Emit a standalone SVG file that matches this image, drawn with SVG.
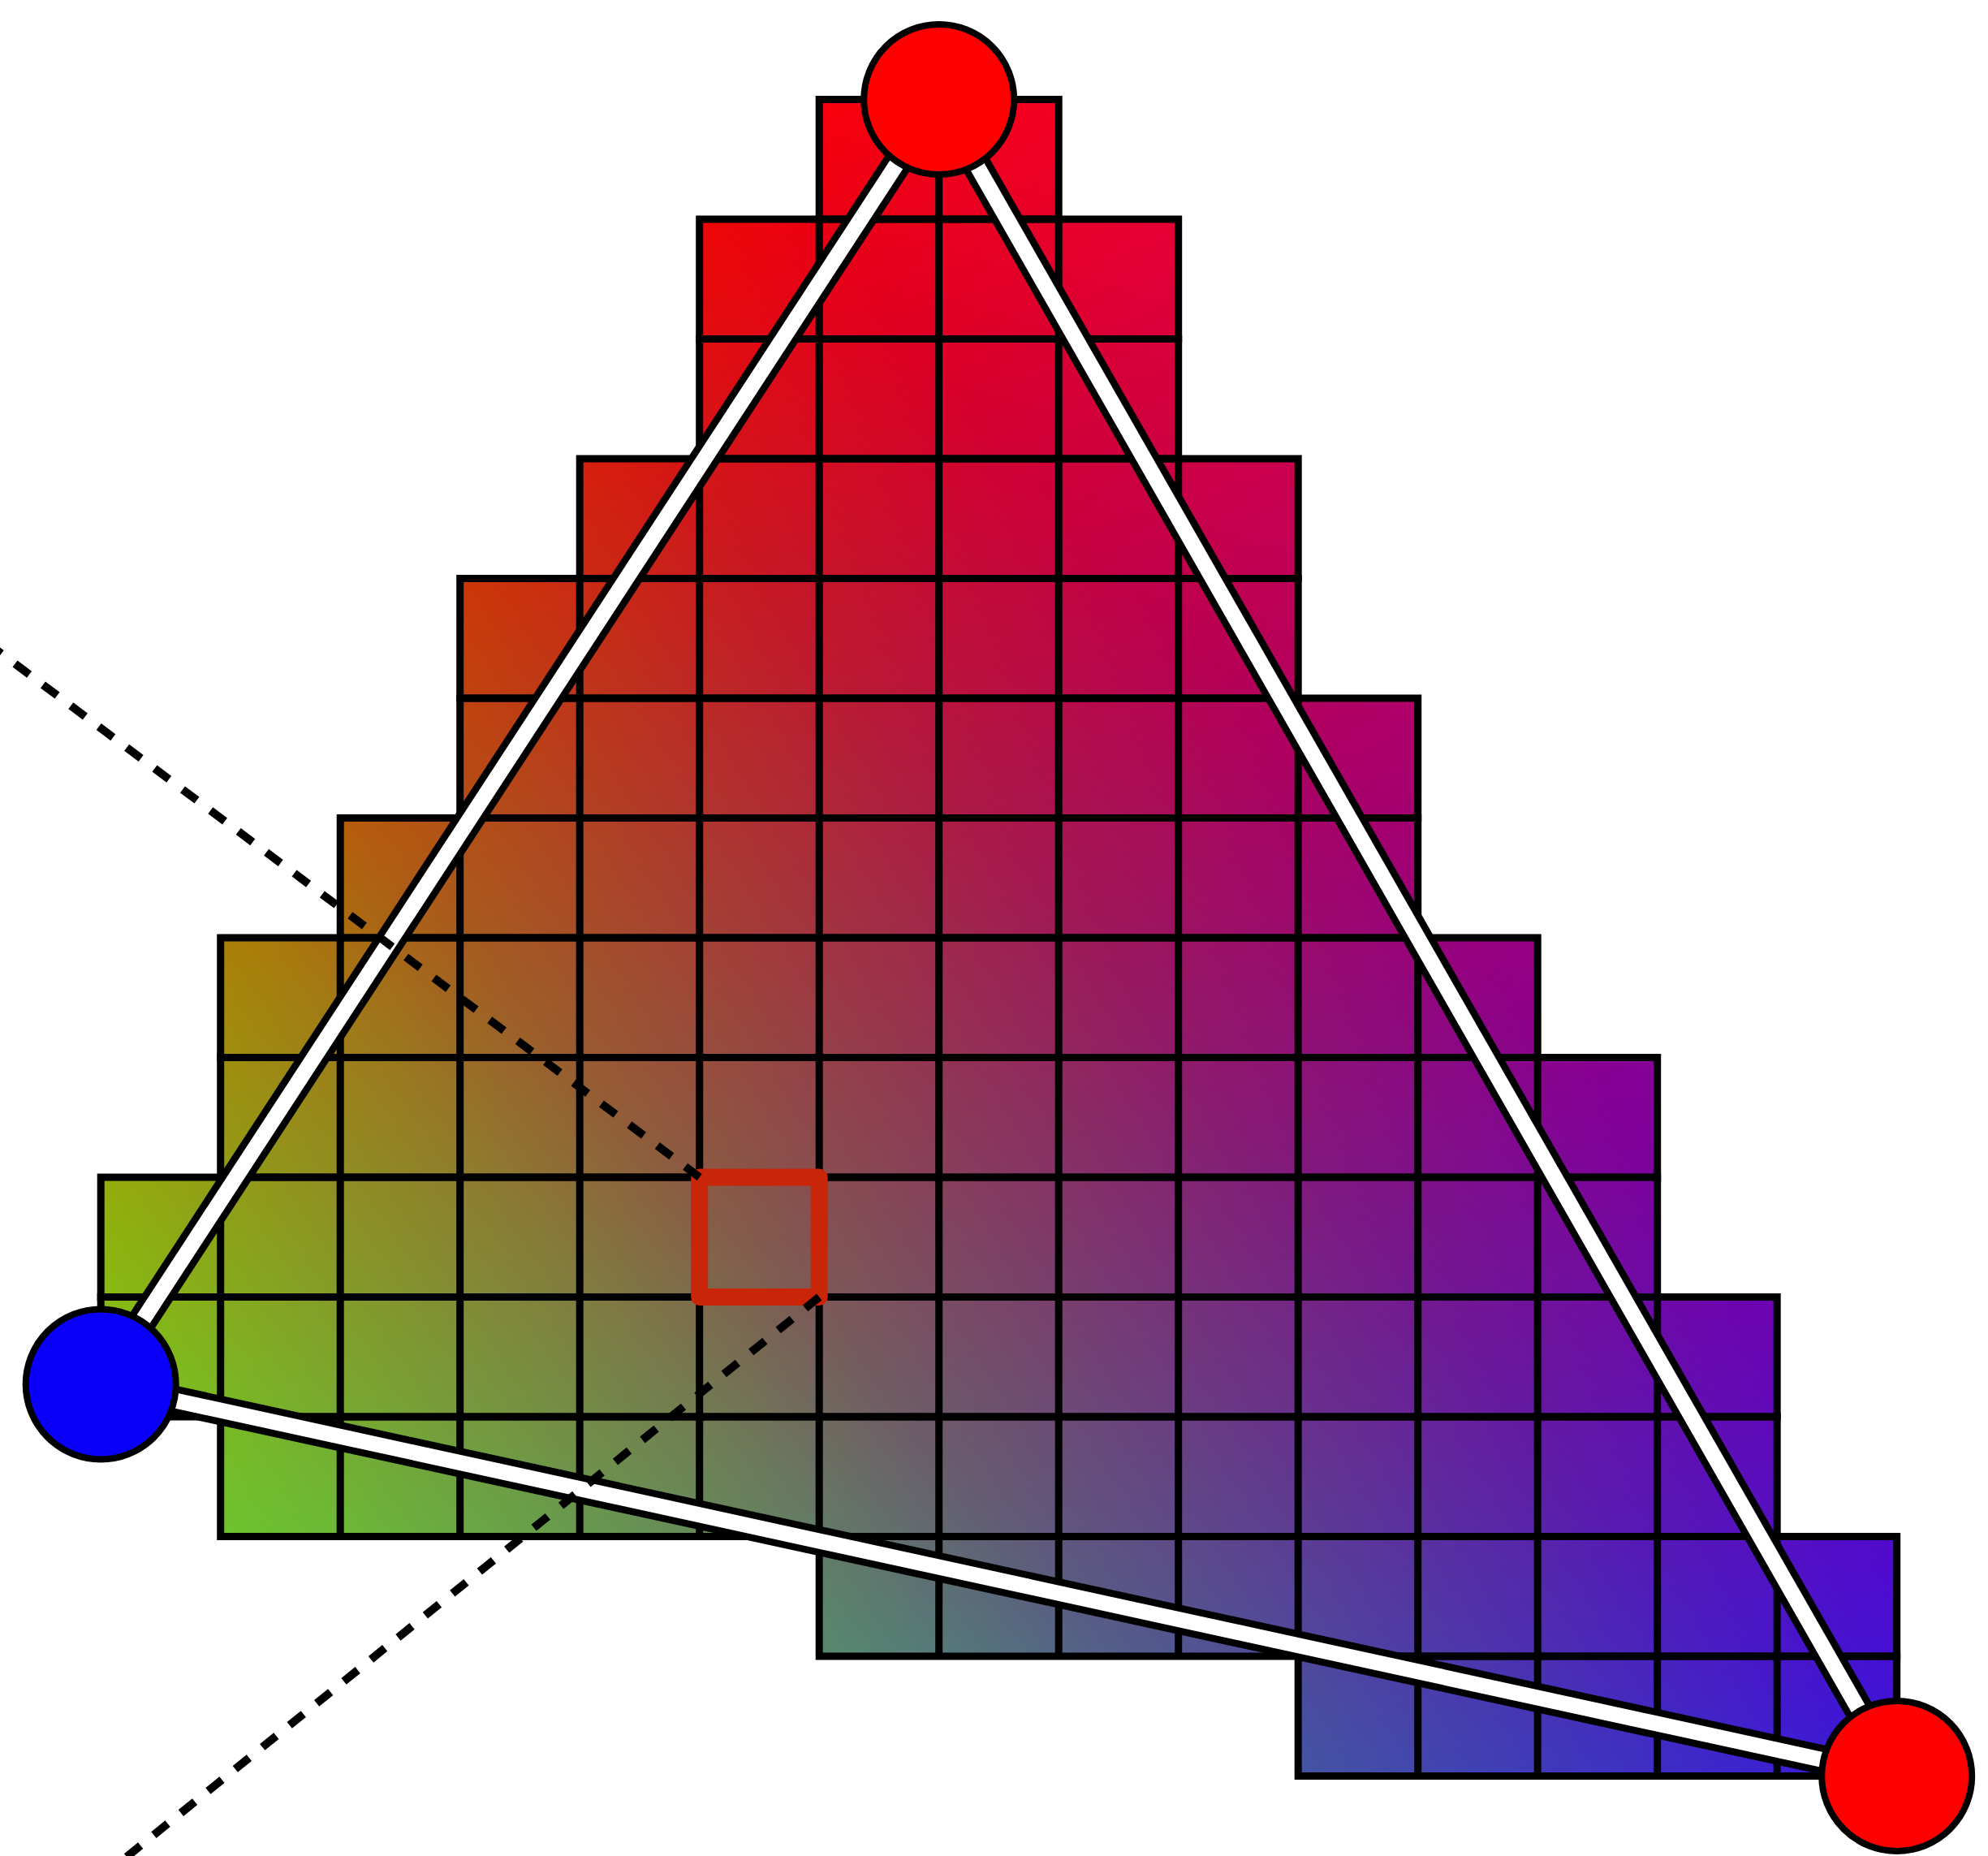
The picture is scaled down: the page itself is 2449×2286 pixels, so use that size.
<svg xmlns="http://www.w3.org/2000/svg" width="2449" height="2286" viewBox="0 0 2449 2286">
<style>
.grid{fill:none;stroke:#000;stroke-width:9;stroke-linejoin:miter}
.edge-out{stroke:#000;stroke-width:36;stroke-linecap:butt}
.edge-in{stroke:#fff;stroke-width:19;stroke-linecap:butt}
.dash{stroke:#000;stroke-width:10;stroke-dasharray:22 21;fill:none}
.node{stroke:#000;stroke-width:8}
.blend{mix-blend-mode:screen}
</style>
<defs>
<linearGradient id="gR" gradientUnits="userSpaceOnUse" x1="487.4" y1="3152.9" x2="29.6" y2="191.6">
<stop offset="0" stop-color="#000"/><stop offset="1" stop-color="#f00"/>
</linearGradient>
<linearGradient id="gG" gradientUnits="userSpaceOnUse" x1="393.3" y1="-365.9" x2="-1224.4" y2="1138.9">
<stop offset="0" stop-color="#000"/>
<stop offset="0.157" stop-color="#001900"/>
<stop offset="0.275" stop-color="#003700"/>
<stop offset="0.412" stop-color="#005c00"/>
<stop offset="0.49" stop-color="#007a00"/>
<stop offset="0.69" stop-color="#00b900"/>
<stop offset="1" stop-color="#0f0"/>
</linearGradient>
<linearGradient id="gB" gradientUnits="userSpaceOnUse" x1="661.5" y1="436.7" x2="2947" y2="1945.7">
<stop offset="0" stop-color="#000"/><stop offset="1" stop-color="#00f"/>
</linearGradient>
<clipPath id="cells">
<rect x="1009.2" y="122.5" width="295" height="147.5"/>
<rect x="861.7" y="270" width="590" height="147.5"/>
<rect x="861.7" y="417.5" width="590" height="147.5"/>
<rect x="714.2" y="565" width="885" height="147.5"/>
<rect x="566.7" y="712.5" width="1032.5" height="147.5"/>
<rect x="566.7" y="860" width="1180" height="147.5"/>
<rect x="419.2" y="1007.5" width="1327.5" height="147.5"/>
<rect x="271.7" y="1155" width="1622.5" height="147.5"/>
<rect x="271.7" y="1302.5" width="1770" height="147.5"/>
<rect x="124.2" y="1450" width="1917.5" height="147.5"/>
<rect x="124.2" y="1597.5" width="2065" height="147.5"/>
<rect x="271.7" y="1745" width="1917.5" height="147.5"/>
<rect x="1009.2" y="1892.5" width="1327.5" height="147.5"/>
<rect x="1599.2" y="2040" width="737.5" height="147.5"/>
</clipPath>
</defs>
<rect width="2449" height="2286" fill="#fff"/>
<g id="colour-field" clip-path="url(#cells)" style="isolation:isolate">
<rect x="0" y="0" width="2449" height="2286" fill="url(#gR)"/>
<rect class="blend" x="0" y="0" width="2449" height="2286" fill="url(#gG)"/>
<rect class="blend" x="0" y="0" width="2449" height="2286" fill="url(#gB)"/>
</g>
<g id="grid" class="grid">
<path d="M1009.2 122.5h295v147.5h-295zM1156.7 122.5v147.5"/>
<path d="M861.7 270h590v147.5h-590zM1009.2 270v147.5M1156.7 270v147.5M1304.2 270v147.5"/>
<path d="M861.7 417.5h590v147.5h-590zM1009.2 417.5v147.5M1156.7 417.5v147.5M1304.2 417.5v147.5"/>
<path d="M714.2 565h885v147.5h-885zM861.7 565v147.5M1009.2 565v147.5M1156.7 565v147.5M1304.2 565v147.5M1451.7 565v147.5"/>
<path d="M566.7 712.5h1032.5v147.5h-1032.5zM714.2 712.5v147.5M861.7 712.5v147.5M1009.2 712.5v147.5M1156.7 712.5v147.5M1304.2 712.5v147.5M1451.7 712.5v147.5"/>
<path d="M566.7 860h1180v147.5h-1180zM714.2 860v147.5M861.7 860v147.5M1009.2 860v147.5M1156.7 860v147.5M1304.2 860v147.5M1451.7 860v147.5M1599.2 860v147.5"/>
<path d="M419.2 1007.5h1327.5v147.5h-1327.5zM566.7 1007.5v147.5M714.2 1007.5v147.5M861.7 1007.5v147.5M1009.2 1007.5v147.5M1156.7 1007.5v147.5M1304.2 1007.5v147.5M1451.7 1007.5v147.5M1599.2 1007.5v147.5"/>
<path d="M271.7 1155h1622.5v147.5h-1622.5zM419.2 1155v147.5M566.7 1155v147.5M714.2 1155v147.5M861.7 1155v147.5M1009.2 1155v147.5M1156.7 1155v147.5M1304.2 1155v147.5M1451.7 1155v147.5M1599.2 1155v147.5M1746.7 1155v147.5"/>
<path d="M271.7 1302.5h1770v147.5h-1770zM419.2 1302.5v147.5M566.7 1302.5v147.5M714.2 1302.5v147.5M861.7 1302.5v147.5M1009.2 1302.5v147.5M1156.7 1302.5v147.5M1304.2 1302.5v147.5M1451.7 1302.5v147.5M1599.2 1302.5v147.5M1746.7 1302.5v147.5M1894.2 1302.5v147.5"/>
<path d="M124.2 1450h1917.5v147.5h-1917.5zM271.7 1450v147.5M419.2 1450v147.5M566.7 1450v147.5M714.2 1450v147.5M861.7 1450v147.5M1009.2 1450v147.5M1156.7 1450v147.5M1304.2 1450v147.5M1451.7 1450v147.5M1599.2 1450v147.5M1746.7 1450v147.5M1894.2 1450v147.5"/>
<path d="M124.2 1597.5h2065v147.5h-2065zM271.7 1597.5v147.5M419.2 1597.5v147.5M566.7 1597.5v147.5M714.2 1597.5v147.5M861.7 1597.5v147.5M1009.2 1597.5v147.5M1156.7 1597.5v147.5M1304.2 1597.5v147.5M1451.7 1597.5v147.5M1599.2 1597.5v147.5M1746.7 1597.5v147.5M1894.2 1597.5v147.5M2041.7 1597.5v147.5"/>
<path d="M271.7 1745h1917.5v147.5h-1917.5zM419.2 1745v147.5M566.7 1745v147.5M714.2 1745v147.5M861.7 1745v147.5M1009.2 1745v147.5M1156.7 1745v147.5M1304.2 1745v147.5M1451.7 1745v147.5M1599.2 1745v147.5M1746.7 1745v147.5M1894.2 1745v147.5M2041.7 1745v147.5"/>
<path d="M1009.2 1892.5h1327.5v147.5h-1327.5zM1156.7 1892.5v147.5M1304.2 1892.5v147.5M1451.7 1892.5v147.5M1599.2 1892.5v147.5M1746.7 1892.5v147.5M1894.2 1892.5v147.5M2041.7 1892.5v147.5M2189.2 1892.5v147.5"/>
<path d="M1599.2 2040h737.5v147.5h-737.5zM1746.7 2040v147.5M1894.2 2040v147.5M2041.7 2040v147.5M2189.2 2040v147.5"/>
</g>
<g id="selected-cell">
<rect x="861.7" y="1450" width="147.5" height="147.5" fill="none" stroke="#c92508" stroke-width="21" stroke-linejoin="round"/>
</g>
<g id="connectors">
<line class="edge-out" x1="1156.7" y1="122.5" x2="124.2" y2="1705"/>
<line class="edge-in" x1="1156.7" y1="122.5" x2="124.2" y2="1705"/>
<line class="edge-out" x1="1156.7" y1="122.5" x2="2336.7" y2="2187.5"/>
<line class="edge-in" x1="1156.7" y1="122.5" x2="2336.7" y2="2187.5"/>
<line class="edge-out" x1="124.2" y1="1705" x2="2336.7" y2="2187.5"/>
<line class="edge-in" x1="124.2" y1="1705" x2="2336.7" y2="2187.5"/>
</g>
<g id="guides">
<line class="dash" x1="861.7" y1="1450" x2="-30" y2="781.2"/>
<line class="dash" x1="1009.2" y1="1597.5" x2="140" y2="2300"/>
</g>
<g id="node-top">
<circle class="node" cx="1156.7" cy="122.5" r="92.5" fill="#ff0000"/>
</g>
<g id="node-left">
<circle class="node" cx="124.2" cy="1705" r="92.5" fill="#0a00fa"/>
</g>
<g id="node-right">
<circle class="node" cx="2336.7" cy="2187.5" r="92.5" fill="#ff0000"/>
</g>
</svg>
